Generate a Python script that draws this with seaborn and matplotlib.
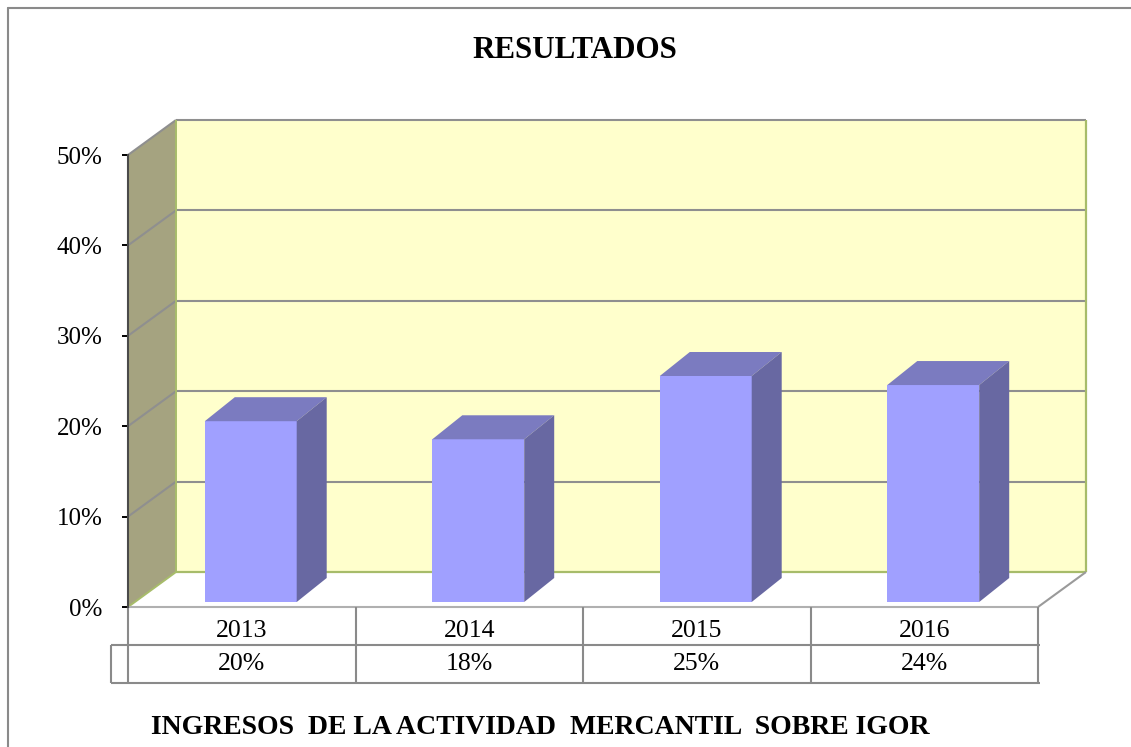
import matplotlib
matplotlib.use("Agg")
import matplotlib.pyplot as plt
from matplotlib.patches import Polygon
from matplotlib.lines import Line2D
from matplotlib.transforms import Affine2D, IdentityTransform
import seaborn as sns

# data
years = ["2013", "2014", "2015", "2016"]
shares = [0.20, 0.18, 0.25, 0.24]
share_labels = ["20%", "18%", "25%", "24%"]
y_ticks = [0.0, 0.1, 0.2, 0.3, 0.4, 0.5]
y_tick_labels = ["0%", "10%", "20%", "30%", "40%", "50%"]
title = "RESULTADOS"
x_title = "INGRESOS  DE LA ACTIVIDAD  MERCANTIL  SOBRE IGOR"

W, H, DPI = 1131, 747, 100
WALL = (48, 35)       # depth offset of the back wall (px)
BAR_FRONT = (9, 5)    # bars sit a bit behind the front plane
BAR_BACK = (39, 29)
ROW = 38              # height of a table row (px)

sns.set_style("white")
plt.rcParams["font.family"] = ["Liberation Serif", "DejaVu Serif"]
plt.rcParams["text.color"] = "black"
plt.rcParams["ytick.color"] = "black"

fig = plt.figure(figsize=(W / DPI, H / DPI), dpi=DPI)
ax = fig.add_axes([128 / W, (H - 607) / H, 910 / W, 452 / H])

sns.barplot(x=years, y=shares, color="#A0A0FF", saturation=1, width=0.404,
            linewidth=0, ax=ax, zorder=3)
ax.set_xlim(-0.5, 3.5)
ax.set_ylim(0, 0.5)
ax.patch.set_visible(False)
for s in ["top", "right", "bottom"]:
    ax.spines[s].set_visible(False)
ax.spines["left"].set_color("#4a4a4a")
ax.spines["left"].set_linewidth(1.5)
ax.spines["left"].set_zorder(2)
ax.set_xticks([])
ax.set_xlabel("")
ax.set_yticks(y_ticks)
ax.set_yticklabels(y_tick_labels, fontsize=18, color="black")
ax.tick_params(axis="y", direction="out", length=4.5, width=1.4, color="black",
               pad=14, left=True)


def px(x, y, off=(0, 0)):
    p = ax.transData.transform((x, y))
    return (p[0] + off[0], p[1] + off[1])


def face(pts, color, z, ec="none", lw=0):
    ax.add_patch(Polygon(pts, closed=True, facecolor=color, edgecolor=ec, lw=lw,
                         transform=IdentityTransform(), clip_on=False, zorder=z))


def seg(p0, p1, color, lw, z=1):
    ax.add_line(Line2D([p0[0], p1[0]], [p0[1], p1[1]], color=color, lw=lw,
                       transform=IdentityTransform(), clip_on=False, zorder=z,
                       solid_capstyle="butt"))


x0, x1 = -0.5, 3.5
top = y_ticks[-1]

# walls and floor
face([px(x0, 0, WALL), px(x1, 0, WALL), px(x1, top, WALL), px(x0, top, WALL)], "#FFFFCC", 0.5)
face([px(x0, 0), px(x0, top), px(x0, top, WALL), px(x0, 0, WALL)], "#A5A380", 0.5)
face([px(x0, 0), px(x1, 0), px(x1, 0, WALL), px(x0, 0, WALL)], "white", 0.5)

grid = "#8f8f8f"
for t in y_ticks[1:]:
    seg(px(x0, t, WALL), px(x1, t, WALL), grid, 1.5)
    seg(px(x0, t), px(x0, t, WALL), grid, 1.5)
green = "#A7BC6A"
seg(px(x0, 0, WALL), px(x0, top, WALL), green, 1.4)
seg(px(x1, 0, WALL), px(x1, top, WALL), green, 1.6)
seg(px(x0, 0, WALL), px(x1, 0, WALL), green, 1.6)
seg(px(x0, 0), px(x0, 0, WALL), green, 1.4)
seg(px(x1, 0), px(x1, 0, WALL), "#9a9a9a", 1.5)
seg(px(x0, 0), px(x1, 0), "#b0b0b0", 1.5)

# 3d bars: shift seaborn's bars back and add top and side faces
shift = Affine2D().translate(*BAR_FRONT)
for p in ax.patches:
    if isinstance(p, Polygon):
        continue
    p.set_transform(ax.transData + shift)
    bx0, bx1, h = p.get_x(), p.get_x() + p.get_width(), p.get_height()
    face([px(bx0, h, BAR_FRONT), px(bx1, h, BAR_FRONT),
          px(bx1, h, BAR_BACK), px(bx0, h, BAR_BACK)], "#7B7BC0", 3)
    face([px(bx1, 0, BAR_FRONT), px(bx1, h, BAR_FRONT),
          px(bx1, h, BAR_BACK), px(bx1, 0, BAR_BACK)], "#6868A2", 3)

# data table under the plot
line = "#8a8a8a"
y0 = px(x0, 0)[1]
left_key = px(x0, 0)[0] - 17
right = px(x1, 0)[0] + 2
for i in range(len(years) + 1):
    xb = px(i - 0.5, 0)[0]
    seg((xb, y0), (xb, y0 - 2 * ROW), line, 1.5)
seg((left_key, y0 - ROW), (right, y0 - ROW), line, 1.5)
seg((left_key, y0 - 2 * ROW), (right, y0 - 2 * ROW), line, 1.5)
seg((left_key, y0 - ROW), (left_key, y0 - 2 * ROW), line, 1.5)
for i, (yr, lab) in enumerate(zip(years, share_labels)):
    xc = px(i, 0)[0]
    ax.text(xc, y0 - 0.62 * ROW, yr, transform=IdentityTransform(), ha="center",
            va="center", fontsize=18.5)
    ax.text(xc, y0 - 1.5 * ROW, lab, transform=IdentityTransform(), ha="center",
            va="center", fontsize=18.5)

# titles and outer frame
fig.text(575 / W, 1 - 50 / H, title, ha="center", va="center", fontsize=22.3,
         fontweight="bold")
fig.text(540 / W, 1 - 727 / H, x_title, ha="center", va="center", fontsize=20,
         fontweight="bold")
fig.add_artist(Line2D([8 / W, 8 / W], [0, 1 - 8 / H], transform=fig.transFigure,
                      color="#8a8a8a", lw=1.5))
fig.add_artist(Line2D([8 / W, 1], [1 - 8 / H, 1 - 8 / H], transform=fig.transFigure,
                      color="#8a8a8a", lw=1.5))

fig.savefig("out.png", dpi=DPI)
